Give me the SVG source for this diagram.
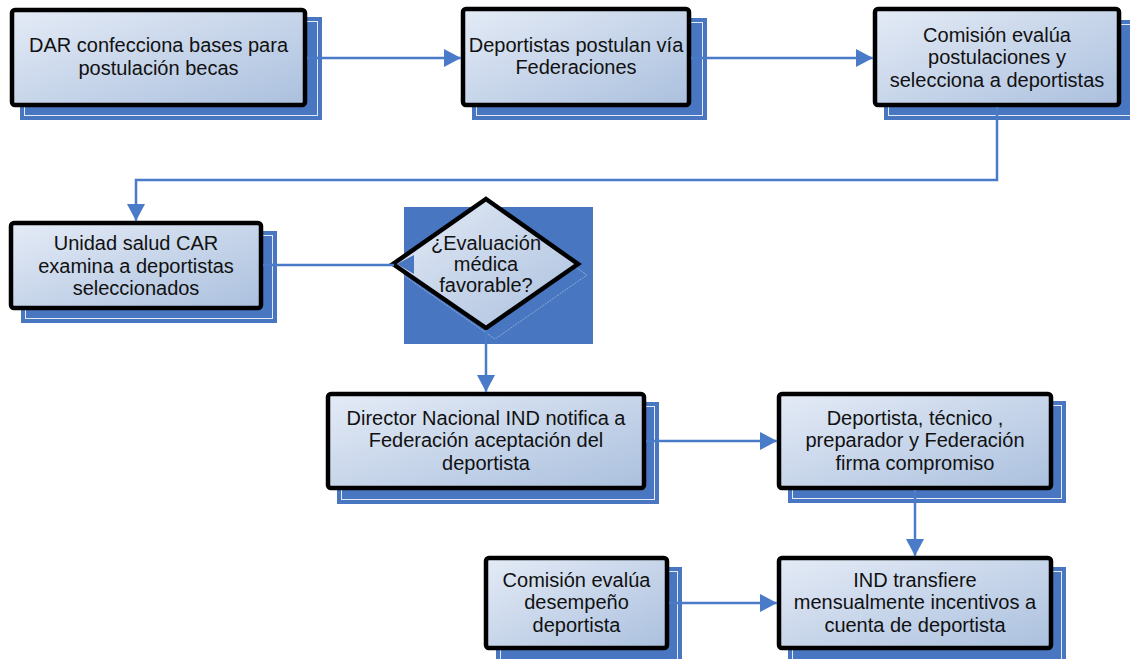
<svg xmlns="http://www.w3.org/2000/svg" width="1130" height="659" viewBox="0 0 1130 659">
<defs>
<linearGradient id="g" x1="0" y1="0" x2="1" y2="1">
<stop offset="0" stop-color="#e4ebf6"/>
<stop offset="1" stop-color="#abc0de"/>
</linearGradient>
<marker id="arr" markerUnits="userSpaceOnUse" markerWidth="18" markerHeight="18" refX="17" refY="9" orient="auto">
<path d="M0,0 L17,9 L0,18 z" fill="#4a7bc8"/>
</marker>
<style>
.sh{fill:#4876c0;}
.shl{fill:none;stroke:#ffffff;stroke-width:1;opacity:0.85;}
.bx{fill:url(#g);stroke:#000;stroke-width:4.5;}
.t{font-family:"Liberation Sans",Arial,sans-serif;font-size:20px;fill:#111;text-anchor:middle;}
.c{fill:none;stroke:#4a7bc8;stroke-width:2.5;}
.ca{fill:none;stroke:#4a7bc8;stroke-width:2.5;marker-end:url(#arr);}
</style>
</defs>
<rect width="1130" height="659" fill="#fff"/>

<g id="n1">
<rect class="sh" x="20" y="17" width="302" height="103"/>
<rect class="shl" x="24.5" y="21.5" width="293" height="94"/>
<rect class="bx" x="12" y="10" width="293" height="95" rx="3"/>
<text class="t" x="158.5" y="52">DAR confecciona bases para</text>
<text class="t" x="158.5" y="75">postulación becas</text>
</g>

<g id="n2">
<rect class="sh" x="472" y="18" width="235" height="102"/>
<rect class="shl" x="476.5" y="22.5" width="226" height="93"/>
<rect class="bx" x="463" y="9" width="226" height="96" rx="3"/>
<text class="t" x="576" y="52">Deportistas postulan vía</text>
<text class="t" x="576" y="74">Federaciones</text>
</g>

<g id="n3">
<rect class="sh" x="884" y="20" width="260" height="100"/>
<rect class="shl" x="888.5" y="24.5" width="260" height="91"/>
<rect class="bx" x="875" y="9" width="244" height="96" rx="3"/>
<text class="t" x="997" y="41.5">Comisión evalúa</text>
<text class="t" x="997" y="64">postulaciones y</text>
<text class="t" x="997" y="86.5">selecciona a deportistas</text>
</g>

<g id="n4">
<rect class="sh" x="21" y="231" width="256" height="92"/>
<rect class="shl" x="25.5" y="235.5" width="247" height="83"/>
<rect class="bx" x="11" y="223" width="250" height="85" rx="3"/>
<text class="t" x="136" y="250">Unidad salud CAR</text>
<text class="t" x="136" y="272.5">examina a deportistas</text>
<text class="t" x="136" y="295">seleccionados</text>
</g>

<g id="n5">
<rect x="404" y="207" width="189" height="137" fill="#4876c0"/>
<polygon points="495,210 587,275 495,339 403,275" fill="none" stroke="#a9bfe4" stroke-width="1" stroke-dasharray="2 1" opacity="0.7"/>
<polygon points="486,199 578,264 486,328 393,264" fill="url(#g)"/>
<polygon points="414,255 414,274 397,264" fill="#4876c0"/>
<polygon points="486,199 578,264 486,328 393,264" fill="none" stroke="#000" stroke-width="4.5" stroke-linejoin="miter"/>
<text class="t" x="486" y="250">¿Evaluación</text>
<text class="t" x="486" y="271">médica</text>
<text class="t" x="486" y="292">favorable?</text>
</g>

<g id="n6">
<rect class="sh" x="337" y="402" width="322" height="102"/>
<rect class="shl" x="341.5" y="406.5" width="313" height="93"/>
<rect class="bx" x="328" y="394" width="316" height="94" rx="3"/>
<text class="t" x="486" y="424.5">Director Nacional IND notifica a</text>
<text class="t" x="486" y="447">Federación aceptación del</text>
<text class="t" x="486" y="469.5">deportista</text>
</g>

<g id="n7">
<rect class="sh" x="788" y="401" width="278" height="102"/>
<rect class="shl" x="792.5" y="405.5" width="269" height="93"/>
<rect class="bx" x="779" y="394" width="272" height="94" rx="3"/>
<text class="t" x="915" y="424.5">Deportista, técnico ,</text>
<text class="t" x="915" y="447">preparador y Federación</text>
<text class="t" x="915" y="469.5">firma compromiso</text>
</g>

<g id="n8">
<rect class="sh" x="496" y="567" width="186" height="100"/>
<rect class="shl" x="500.5" y="571.5" width="177" height="95"/>
<rect class="bx" x="486" y="558" width="181" height="90" rx="3"/>
<text class="t" x="576.5" y="586.5">Comisión evalúa</text>
<text class="t" x="576.5" y="609">desempeño</text>
<text class="t" x="576.5" y="631.5">deportista</text>
</g>

<g id="n9">
<rect class="sh" x="788" y="567" width="278" height="100"/>
<rect class="shl" x="792.5" y="571.5" width="269" height="95"/>
<rect class="bx" x="779" y="558" width="272" height="90" rx="3"/>
<text class="t" x="915" y="586.5">IND transfiere</text>
<text class="t" x="915" y="609">mensualmente incentivos a</text>
<text class="t" x="915" y="631.5">cuenta de deportista</text>
</g>

<g id="connectors">
<path class="ca" d="M307,58 H461"/>
<path class="ca" d="M691,58 H873"/>
<path class="ca" d="M997,107 V180 H136 V221"/>
<path class="c" d="M263,265 H394"/>
<path class="ca" d="M486,330 V392"/>
<path class="ca" d="M646,441 H777"/>
<path class="ca" d="M915,490 V556"/>
<path class="ca" d="M669,603 H777"/>
</g>
</svg>
